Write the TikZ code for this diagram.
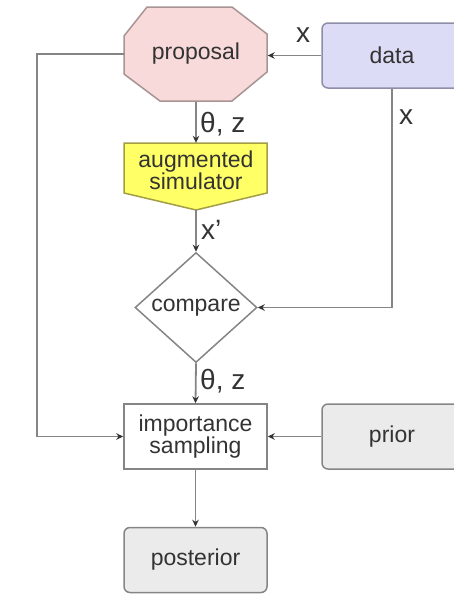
\documentclass[tikz,border=0pt]{standalone}
\usepackage{fontspec}
\setmainfont{Liberation Sans}
\usetikzlibrary{arrows.meta,shapes.geometric,backgrounds}
\definecolor{linegray}{HTML}{858585}
\definecolor{ink}{HTML}{333333}
\definecolor{propfill}{HTML}{F9DADA}
\definecolor{propline}{HTML}{A89494}
\definecolor{datafill}{HTML}{DCDCF6}
\definecolor{dataline}{HTML}{8E8EA8}
\definecolor{simfill}{HTML}{FFFF66}
\definecolor{simline}{HTML}{A39E45}
\definecolor{boxfill}{HTML}{EBEBEB}
\tikzset{
  txt/.style={font=\fontsize{23}{25}\selectfont, text=ink, align=center, inner sep=0pt},
  lbl/.style={font=\fontsize{28}{30}\selectfont, text=ink, inner sep=0pt},
  plainbox/.style={txt, draw=linegray, line width=1.5pt, minimum width=143pt, minimum height=65pt},
  roundbox/.style={plainbox, rounded corners=6pt, fill=boxfill},
  conn/.style={draw=linegray, line width=1.8pt},
  arr/.style={conn, -{Stealth[length=7pt,width=6.5pt,color=ink]}},
}
\begin{document}
\begin{tikzpicture}[x=1pt,y=-1pt]
\useasboundingbox (0,0) rectangle (454,595);

% nodes carrying the text (shapes of proposal and simulator drawn below)
\node[txt, minimum width=143pt, minimum height=95pt] (prop) at (196,54) {proposal};
\node[roundbox, fill=datafill, draw=dataline, minimum width=140pt] (data) at (392,55.5) {data};
\node[txt, minimum width=143pt, minimum height=54pt] (sim) at (196,170) {augmented\\[-3pt]simulator};
\coordinate (simtip) at (196,210);
\node[txt, diamond, draw=linegray, line width=1.5pt, fill=white, minimum width=122pt, minimum height=110pt] (cmp) at (196,307.5) {compare};
\node[plainbox, fill=white] (is) at (195.5,436.5) {importance\\[-3pt]sampling};
\node[roundbox, minimum width=140pt] (prior) at (392,436.5) {prior};
\node[roundbox] (post) at (195.5,560) {posterior};
\coordinate (leftrail) at (37,0);

\begin{scope}[on background layer]
  % octagon for the proposal
  \filldraw[fill=propfill, draw=propline, line width=1.5pt]
    (147,7) -- (232,7) -- (267,34) -- (267,72) -- (232,101) -- (160,101) -- (124,74) -- (124,36) -- cycle;
  % pennant shape for the simulator
  \filldraw[fill=simfill, draw=simline, line width=1.5pt]
    (124,143) -- (267,143) -- (267,193) -- (simtip) -- (124,193) -- cycle;
\end{scope}

% connectors
\draw[arr] (data.west) -- (data.west -| prop.east);
\draw[arr] (prop.south) -- (sim.north);
\draw[arr] (simtip) -- (cmp.north);
\draw[arr] (data.south) |- (cmp.east);
\draw[arr] (cmp.south) -- (is.north);
\draw[arr] (prop.west) -- (prop.west -| leftrail) |- (is.west);
\draw[arr] (prior.west) -- (is.east);
\draw[arr] (is.south) -- (post.north);

% edge labels
\node[lbl] (lx1) at (303,35) {x};
\node[lbl] (lx2) at (406,117) {x};
\node[lbl, anchor=west] (ltz1) at (200,124) {θ, z};
\node[lbl, anchor=west] (lxp) at (201,230) {x'};
\node[lbl, anchor=west] (ltz2) at (200,381) {θ, z};
\end{tikzpicture}
\end{document}
